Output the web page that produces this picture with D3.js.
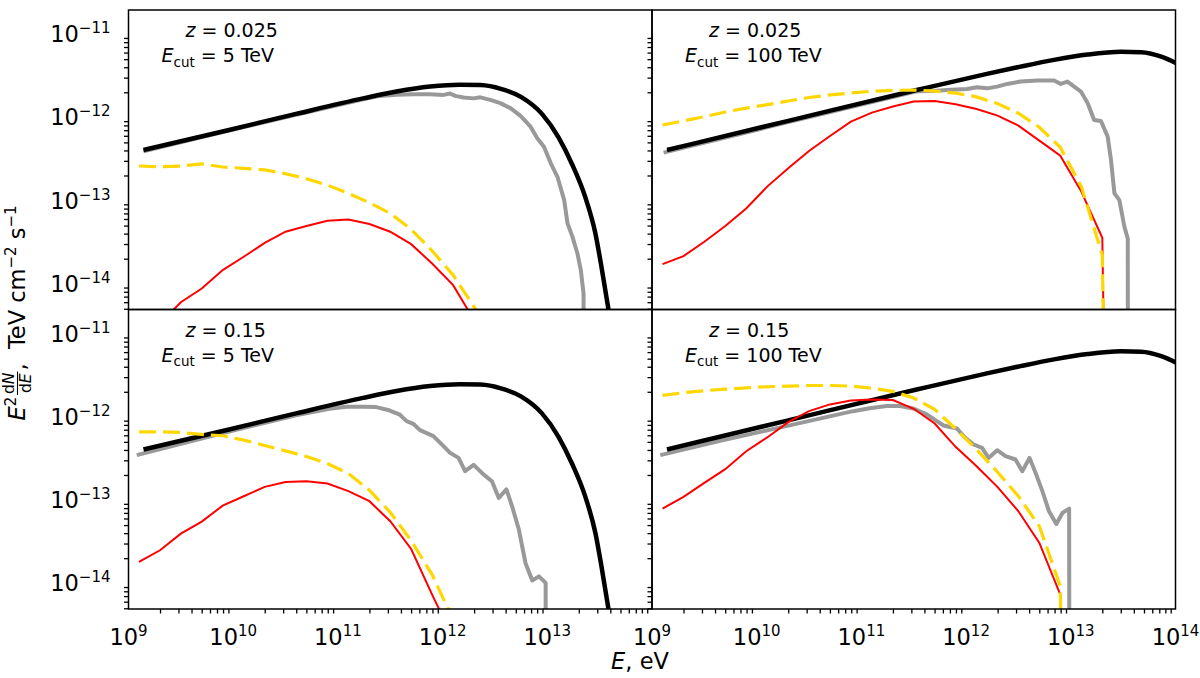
<!DOCTYPE html>
<html>
<head>
<meta charset="utf-8">
<script src="https://cdn.jsdelivr.net/npm/d3@7"></script>
<style>
  body { margin: 0; background: #fff; }
  text { font-family: "DejaVu Sans", sans-serif; fill: #000; white-space: pre; }
</style>
</head>
<body>
<svg id="chart" width="1200" height="678"></svg>
<script>
// ---- data (E in eV, E^2 dN/dE in TeV cm^-2 s^-1) ----

// common energy grid of the cascade spectra (red and gold lines)
const energyGrid = [1.26e9, 2.00e9, 3.16e9, 5.01e9, 7.94e9, 1.26e10, 2.00e10, 3.16e10, 5.01e10, 7.94e10,
  1.26e11, 2.00e11, 3.16e11, 5.01e11, 7.94e11, 1.26e12, 2.00e12, 3.16e12, 5.01e12, 7.94e12,
  1.26e13, 2.00e13, 3.16e13];

// red solid lines, values on energyGrid
const redTL = [1.91e-15, 3.32e-15, 6.00e-15, 8.77e-15, 1.46e-14, 2.11e-14, 3.10e-14, 4.22e-14, 4.93e-14, 5.71e-14,
  5.93e-14, 5.21e-14, 4.22e-14, 2.99e-14, 1.75e-14, 9.62e-15, 3.65e-15];
const redTR = [1.72e-14, 2.15e-14, 3.19e-14, 4.93e-14, 8.04e-14, 1.47e-13, 2.44e-13, 3.94e-13, 5.97e-13, 8.87e-13,
  1.14e-12, 1.35e-12, 1.55e-12, 1.57e-12, 1.44e-12, 1.26e-12, 1.05e-12, 7.94e-13, 5.25e-13, 3.46e-13,
  1.28e-13, 3.56e-14, 0];
const redBL = [1.80e-14, 2.49e-14, 3.94e-14, 5.51e-14, 8.57e-14, 1.11e-13, 1.44e-13, 1.65e-13, 1.68e-13, 1.58e-13,
  1.28e-13, 9.68e-14, 5.56e-14, 2.58e-14, 7.28e-15, 2.19e-15];
const redBR = [7.89e-14, 1.09e-13, 1.61e-13, 2.35e-13, 3.86e-13, 5.65e-13, 8.63e-13, 1.17e-12, 1.41e-12, 1.57e-12,
  1.62e-12, 1.59e-12, 1.25e-12, 8.32e-13, 4.36e-13, 2.55e-13, 1.43e-13, 7.33e-14, 3.05e-14, 7.28e-15, 0];

// gold dashed lines, values on energyGrid
const goldTL = [2.60e-13, 2.55e-13, 2.60e-13, 2.75e-13, 2.53e-13, 2.44e-13, 2.33e-13, 2.10e-13, 1.83e-13, 1.53e-13,
  1.22e-13, 9.42e-14, 7.00e-14, 4.50e-14, 2.49e-14, 1.27e-14, 5.27e-15, 1.91e-15];
const goldTR = [8.09e-13, 9.04e-13, 1.02e-12, 1.16e-12, 1.29e-12, 1.42e-12, 1.57e-12, 1.73e-12, 1.86e-12, 1.96e-12,
  2.06e-12, 2.11e-12, 2.13e-12, 2.07e-12, 1.95e-12, 1.76e-12, 1.46e-12, 1.12e-12, 7.59e-13, 4.36e-13,
  1.47e-13, 2.21e-14, 0];
const goldBL = [6.61e-13, 6.61e-13, 6.49e-13, 6.14e-13, 5.92e-13, 5.25e-13, 4.52e-13, 3.90e-13, 3.33e-13, 2.75e-13,
  2.08e-13, 1.31e-13, 7.13e-14, 3.25e-14, 1.27e-14, 3.65e-15];
const goldBR = [1.81e-12, 1.95e-12, 2.06e-12, 2.15e-12, 2.23e-12, 2.30e-12, 2.34e-12, 2.38e-12, 2.38e-12, 2.34e-12,
  2.21e-12, 2.02e-12, 1.68e-12, 1.23e-12, 7.18e-13, 4.05e-13, 2.16e-13, 1.11e-13, 4.84e-14, 9.18e-15, 0];

// black intrinsic spectra [E, flux]
const blackLeft = [[1.39e9, 4.05e-13], [9.12e9, 7.05e-13], [3.98e10, 1.10e-12], [1.74e11, 1.69e-12],
  [3.63e11, 2.04e-12], [7.59e11, 2.34e-12], [1.45e12, 2.47e-12], [2.30e12, 2.44e-12], [3.60e12, 2.20e-12],
  [5.60e12, 1.76e-12], [8.89e12, 1.10e-12], [1.28e13, 5.75e-13], [1.72e13, 2.75e-13], [2.31e13, 1.09e-13],
  [2.88e13, 4.02e-14], [3.33e13, 1.46e-14], [3.85e13, 4.81e-15], [4.31e13, 1.91e-15]];
const blackRight = [[1.39e9, 4.05e-13], [1.91e10, 8.95e-13], [3.37e11, 2.13e-12], [1.58e12, 3.33e-12],
  [3.31e12, 4.07e-12], [6.92e12, 4.90e-12], [1.45e13, 5.68e-12], [3.02e13, 6.12e-12], [4.70e13, 6.07e-12],
  [7.31e13, 5.37e-12], [1.02e14, 4.47e-12]];

// grey observed spectra [E, flux]
const grayTL = [[1.39e9, 3.90e-13], [9.12e9, 6.92e-13], [3.98e10, 1.07e-12], [1.74e11, 1.65e-12],
  [2.51e11, 1.81e-12], [3.63e11, 1.87e-12], [5.25e11, 1.89e-12], [7.59e11, 1.89e-12], [1.02e12, 1.86e-12],
  [1.18e12, 1.93e-12], [1.32e12, 1.81e-12], [1.58e12, 1.73e-12], [1.98e12, 1.69e-12], [2.29e12, 1.74e-12],
  [2.86e12, 1.62e-12], [3.56e12, 1.48e-12], [4.45e12, 1.29e-12], [5.55e12, 1.04e-12], [6.92e12, 7.73e-13],
  [8.02e12, 5.60e-13], [9.29e12, 4.44e-13], [1.08e13, 2.80e-13], [1.25e13, 1.93e-13], [1.45e13, 1.01e-13],
  [1.56e13, 5.31e-14], [1.74e13, 3.66e-14], [1.94e13, 2.31e-14], [2.09e13, 1.46e-14], [2.22e13, 7.62e-15],
  [2.30e13, 0]];
const grayTR = [[1.29e9, 3.76e-13], [1.91e10, 8.63e-13], [3.37e11, 2.06e-12], [4.88e11, 2.07e-12],
  [6.55e11, 2.13e-12], [1.02e12, 2.19e-12], [1.27e12, 2.30e-12], [1.58e12, 2.23e-12], [1.98e12, 2.34e-12],
  [2.47e12, 2.52e-12], [3.31e12, 2.69e-12], [4.79e12, 2.77e-12], [6.92e12, 2.77e-12], [8.02e12, 2.52e-12],
  [9.29e12, 2.69e-12], [1.25e13, 2.04e-12], [1.45e13, 1.48e-12], [1.67e13, 9.29e-13], [1.94e13, 9.04e-13],
  [2.25e13, 5.86e-13], [2.42e13, 3.07e-13], [2.61e13, 1.22e-13], [2.91e13, 1.01e-13], [3.25e13, 4.84e-14],
  [3.50e13, 3.50e-14], [3.63e13, 0]];
const grayBL = [[1.20e9, 3.46e-13], [9.12e9, 6.67e-13], [3.98e10, 1.04e-12], [8.32e10, 1.25e-12],
  [1.20e11, 1.32e-12], [1.74e11, 1.32e-12], [2.33e11, 1.31e-12], [3.13e11, 1.19e-12], [3.91e11, 1.06e-12],
  [4.53e11, 8.87e-13], [5.25e11, 8.24e-13], [6.08e11, 6.92e-13], [8.17e11, 5.86e-13], [1.02e12, 4.44e-13],
  [1.18e12, 3.69e-13], [1.42e12, 3.21e-13], [1.64e12, 2.22e-13], [1.98e12, 2.65e-13], [2.47e12, 2.02e-13],
  [2.96e12, 1.68e-13], [3.44e12, 1.06e-13], [4.07e12, 1.34e-13], [4.61e12, 8.41e-14], [5.35e12, 4.42e-14],
  [6.19e12, 1.75e-14], [7.18e12, 1.08e-14], [8.32e12, 1.21e-14], [9.64e12, 1.01e-14], [1.00e13, 0]];
const grayBR = [[1.20e9, 3.46e-13], [4.37e9, 5.11e-13], [1.91e10, 7.73e-13], [8.32e10, 1.17e-12],
  [1.20e11, 1.27e-12], [1.74e11, 1.35e-12], [2.33e11, 1.35e-12], [3.13e11, 1.26e-12], [4.21e11, 1.07e-12],
  [5.25e11, 8.87e-13], [6.08e11, 7.87e-13], [8.17e11, 7.24e-13], [9.82e11, 5.60e-13], [1.18e12, 4.65e-13],
  [1.42e12, 4.24e-13], [1.64e12, 3.21e-13], [1.98e12, 3.97e-13], [2.38e12, 3.37e-13], [2.96e12, 3.07e-13],
  [3.44e12, 2.22e-13], [4.04e12, 3.21e-13], [4.61e12, 2.12e-13], [5.35e12, 1.28e-13], [6.19e12, 7.33e-14],
  [7.28e12, 5.16e-14], [8.32e12, 7.00e-14], [9.64e12, 7.89e-14], [1.00e13, 0]];

// tick values and panel captions
const xMajorTicks = [1e9, 1e10, 1e11, 1e12, 1e13, 1e14];
const yMajorTicks = [1e-14, 1e-13, 1e-12, 1e-11];
const redshifts = ["0.025", "0.025", "0.15", "0.15"];
const cutoffs = ["5", "100", "5", "100"];

// ---- layout ----
const svg = d3.select("#chart");
const panelW = 523.5, panelH = 299.5;
const xDomain = [1e9, 1e14];
const yDomain = [4.9e-15, 1.95e-11];
const FLOOR = 1e-30; // zero flux drawn as a drop off the bottom

const onGrid = vals => vals.map((v, i) => [energyGrid[i], v]);

const panels = [
  {x0: 128.5, y0: 10,    black: blackLeft,  gray: grayTL, red: onGrid(redTL), gold: onGrid(goldTL), left: true,  bottom: false},
  {x0: 652,   y0: 10,    black: blackRight, gray: grayTR, red: onGrid(redTR), gold: onGrid(goldTR), left: false, bottom: false},
  {x0: 128.5, y0: 309.5, black: blackLeft,  gray: grayBL, red: onGrid(redBL), gold: onGrid(goldBL), left: true,  bottom: true},
  {x0: 652,   y0: 309.5, black: blackRight, gray: grayBR, red: onGrid(redBR), gold: onGrid(goldBR), left: false, bottom: true}
];

// minor ticks at 2..9 of every decade
const minorOf = (majors, domain) => {
  let out = [];
  majors.concat([majors[0] / 10]).forEach(m => {
    for (let k = 2; k < 10; k++) out.push(m * k);
  });
  return out.filter(v => v > domain[0] && v < domain[1]);
};

panels.forEach((p, i) => {
  const x = d3.scaleLog().domain(xDomain).range([p.x0, p.x0 + panelW]);
  const y = d3.scaleLog().domain(yDomain).range([p.y0 + panelH, p.y0]);

  svg.append("clipPath").attr("id", "clip" + i)
    .append("rect")
    .attr("x", p.x0).attr("y", p.y0)
    .attr("width", panelW).attr("height", panelH);

  const g = svg.append("g");
  const lines = g.append("g").attr("clip-path", `url(#clip${i})`);

  const lineGen = d3.line()
    .x(d => x(d[0]))
    .y(d => y(Math.max(d[1], FLOOR)));

  // grey observed spectrum
  lines.append("path").datum(p.gray)
    .attr("d", lineGen)
    .attr("fill", "none").attr("stroke", "#999999").attr("stroke-width", 4)
    .attr("stroke-linejoin", "round");

  // black intrinsic spectrum (smooth)
  lines.append("path").datum(p.black)
    .attr("d", lineGen.curve(d3.curveMonotoneX))
    .attr("fill", "none").attr("stroke", "#000").attr("stroke-width", 4.5);
  lineGen.curve(d3.curveLinear);

  // red cascade
  lines.append("path").datum(p.red)
    .attr("d", lineGen)
    .attr("fill", "none").attr("stroke", "#ff0000").attr("stroke-width", 2);

  // gold dashed
  lines.append("path").datum(p.gold)
    .attr("d", lineGen)
    .attr("fill", "none").attr("stroke", "#ffd700").attr("stroke-width", 3.2)
    .attr("stroke-dasharray", "17,7");

  // y ticks (drawn for every panel, outward to the left)
  const yAxisG = g.append("g").attr("transform", `translate(${p.x0},0)`);
  yAxisG.call(d3.axisLeft(y).tickValues(yMajorTicks).tickSize(8).tickSizeOuter(0).tickFormat(""));
  yAxisG.call(d3.axisLeft(y).tickValues(minorOf(yMajorTicks, yDomain)).tickSize(4.5).tickSizeOuter(0).tickFormat(""));
  yAxisG.selectAll(".domain").remove();
  yAxisG.selectAll("line").attr("stroke", "#000").attr("stroke-width", 1.3);

  if (p.left) {
    yMajorTicks.forEach(v => {
      const t = g.append("text")
        .attr("x", p.x0 - 18).attr("y", y(v)).attr("dy", "0.36em")
        .attr("text-anchor", "end").attr("font-size", 22.5);
      t.append("tspan").text("10");
      t.append("tspan").attr("font-size", 15).attr("dy", -9)
        .text("\u2212" + Math.abs(Math.round(Math.log10(v))));
    });
  }

  if (p.bottom) {
    const xAxisG = g.append("g").attr("transform", `translate(0,${p.y0 + panelH})`);
    xAxisG.call(d3.axisBottom(x).tickValues(xMajorTicks).tickSize(8).tickSizeOuter(0).tickFormat(""));
    xAxisG.call(d3.axisBottom(x).tickValues(minorOf(xMajorTicks, xDomain)).tickSize(4.5).tickSizeOuter(0).tickFormat(""));
    xAxisG.selectAll(".domain").remove();
    xAxisG.selectAll("line").attr("stroke", "#000").attr("stroke-width", 1.3);

    // left panels leave 10^14 to the neighbour's 10^9
    const shown = p.left ? xMajorTicks.slice(0, -1) : xMajorTicks;
    shown.forEach(v => {
      const t = g.append("text")
        .attr("x", x(v)).attr("y", p.y0 + panelH + 36)
        .attr("text-anchor", "middle").attr("font-size", 22.5);
      t.append("tspan").text("10");
      t.append("tspan").attr("font-size", 15).attr("dy", -9.3)
        .text(Math.round(Math.log10(v)));
    });
  }

  // panel frame
  g.append("rect")
    .attr("x", p.x0).attr("y", p.y0)
    .attr("width", panelW).attr("height", panelH)
    .attr("fill", "none").attr("stroke", "#000").attr("stroke-width", 1.5);

  // caption
  const l1 = g.append("text")
    .attr("x", p.x0 + 57).attr("y", p.y0 + 27.3).attr("font-size", 19);
  l1.append("tspan").attr("font-style", "italic").text("z");
  l1.append("tspan").text(" = " + redshifts[i]);

  const l2 = g.append("text")
    .attr("x", p.x0 + 33).attr("y", p.y0 + 52.3).attr("font-size", 19);
  l2.append("tspan").attr("font-style", "italic").text("E");
  l2.append("tspan").attr("font-size", 13.5).attr("dy", 4.5).text("cut");
  l2.append("tspan").attr("dy", -4.5).text(" = " + cutoffs[i] + " TeV");
});

// ---- x label ----
const xl = svg.append("text")
  .attr("x", 640).attr("y", 669)
  .attr("text-anchor", "middle").attr("font-size", 22.5);
xl.append("tspan").attr("font-style", "italic").text("E");
xl.append("tspan").text(", eV");

// ---- y label (rotated, with a small fraction) ----
const ylOuter = svg.append("g").attr("transform", "translate(25,313) rotate(-90)");
const yl = ylOuter.append("g");

const part1 = yl.append("text").attr("font-size", 22.5);
part1.append("tspan").attr("font-style", "italic").text("E");
part1.append("tspan").attr("font-size", 15.5).attr("dy", -9.5).text("2");
let cursor = part1.node().getComputedTextLength() + 1.5;

const fracSize = 15.5;
const num = yl.append("text").attr("font-size", fracSize).attr("text-anchor", "middle").attr("y", -11);
num.append("tspan").text("d");
num.append("tspan").attr("font-style", "italic").text("N");
const den = yl.append("text").attr("font-size", fracSize).attr("text-anchor", "middle").attr("y", 6);
den.append("tspan").text("d");
den.append("tspan").attr("font-style", "italic").text("E");
const fracW = Math.max(num.node().getComputedTextLength(), den.node().getComputedTextLength()) + 2;
num.attr("x", cursor + fracW / 2);
den.attr("x", cursor + fracW / 2);
yl.append("line")
  .attr("x1", cursor).attr("x2", cursor + fracW)
  .attr("y1", -7.5).attr("y2", -7.5)
  .attr("stroke", "#000").attr("stroke-width", 1.1);
cursor += fracW + 1;

const part3 = yl.append("text").attr("x", cursor).attr("font-size", 22.5);
part3.append("tspan").text(",  TeV cm");
part3.append("tspan").attr("font-size", 15).attr("dy", -9).text("\u22122");
part3.append("tspan").attr("dy", 9).text(" s");
part3.append("tspan").attr("font-size", 15).attr("dy", -9).text("\u22121");
cursor += part3.node().getComputedTextLength();

yl.attr("transform", `translate(${-cursor / 2},0)`);
</script>
</body>
</html>
